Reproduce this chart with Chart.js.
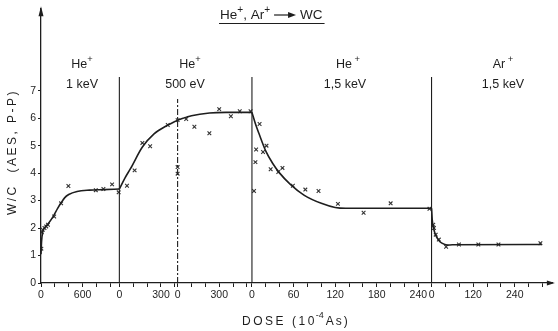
<!DOCTYPE html>
<html><head><meta charset="utf-8">
<script src="https://cdn.jsdelivr.net/npm/chart.js@4/dist/chart.umd.min.js"></script>
<style>html,body{margin:0;padding:0;background:#fff}</style>
</head><body>
<canvas id="c" width="558" height="331"></canvas>
<script>
// ---- x-axis segments (dose in 10^-4 As, each segment restarts at 0) ----
const segmentLengths    = [1130, 420, 536, 259, 350];
const segmentTickSteps  = [200, 100, 100, 20, 40];
const segmentLabelSteps = [600, 300, 300, 60, 120];
const segmentTickMax    = [1000, 400, 500, 240, 320];

// ---- He+ 1 keV ----
const doseHe1keV = [5, 12, 25, 50, 75, 100, 190, 290, 395, 790, 900, 1025, 1120];
const wcHe1keV   = [1.25, 1.85, 1.94, 2.0, 2.06, 2.12, 2.42, 2.9, 3.53, 3.38, 3.42, 3.59, 3.3];
const curveDoseHe1keV = [0, 8, 20, 50, 100, 170, 240, 290, 340, 400, 520, 700, 900, 1130];
const curveWcHe1keV   = [1.05, 1.5, 1.8, 2.0, 2.15, 2.4, 2.72, 2.92, 3.1, 3.22, 3.33, 3.38, 3.4, 3.42];

// ---- He+ 500 eV, first part ----
const doseHe500a = [55, 110, 166, 222, 349, 420, 420, 420];
const wcHe500a   = [3.54, 4.1, 5.1, 4.98, 5.75, 5.93, 4.22, 3.98];
const curveDoseHe500a = [0, 40, 80, 166, 250, 350, 420];
const curveWcHe500a   = [3.42, 3.82, 4.16, 4.95, 5.43, 5.75, 5.93];

// ---- He+ 500 eV, second part ----
const doseHe500b = [62, 121, 229, 300, 384, 448, 526];
const wcHe500b   = [5.97, 5.69, 5.45, 6.33, 6.07, 6.25, 6.25];
const curveDoseHe500b = [0, 100, 230, 350, 536];
const curveWcHe500b   = [5.93, 6.09, 6.19, 6.21, 6.21];

// ---- He+ 1,5 keV ----
const doseHe15 = [3, 5, 6, 11, 16, 21, 27, 38, 44, 59, 77, 96, 124, 161, 200, 256];
const wcHe15   = [3.35, 4.4, 4.86, 5.79, 4.77, 5.0, 4.14, 4.04, 4.19, 3.54, 3.4, 3.35, 2.88, 2.56, 2.9, 2.7];
const curveDoseHe15 = [0, 5, 10, 20, 30, 40, 55, 75, 100, 120, 135, 259];
const curveWcHe15   = [6.21, 5.8, 5.45, 4.8, 4.35, 4.0, 3.6, 3.2, 2.9, 2.75, 2.72, 2.72];

// ---- Ar+ 1,5 keV ----
const doseAr15 = [5, 7, 12, 21, 42, 79, 135, 193, 314];
const wcAr15   = [2.12, 2.0, 1.76, 1.58, 1.32, 1.4, 1.4, 1.4, 1.45];
const curveDoseAr15 = [0, 2, 5, 10, 20, 30, 45, 60, 318];
const curveWcAr15   = [2.72, 2.3, 2.05, 1.8, 1.56, 1.45, 1.38, 1.39, 1.4];

// ---- y axis ----
const yTickValues = [0, 1, 2, 3, 4, 5, 6, 7];
const boundaryTopWc = 7.5;
const dashedTopWc = 6.7;

// ---- mapping of segment-local dose to a common axis position (one unit per tick) ----
const segmentOffsets = [];
segmentLengths.reduce((acc, len, i) => { segmentOffsets[i] = acc; return acc + len / segmentTickSteps[i]; }, 0);
const xAxisMax = segmentOffsets[4] + segmentLengths[4] / segmentTickSteps[4];
const toAxis = (seg, d) => segmentOffsets[seg] + d / segmentTickSteps[seg];

const tickPositions = [], tickLabels = [];
segmentTickMax.forEach((mx, s) => {
  for (let d = 0; d <= mx; d += segmentTickSteps[s]) {
    tickPositions.push(toAxis(s, d));
    tickLabels.push(d % segmentLabelSteps[s] === 0 ? String(d) : '');
  }
});

const INK = '#1e1e1e';
const pts = (seg, xs, ys) => xs.map((d, i) => ({x: toAxis(seg, d), y: ys[i]}));
const pointSet = (seg, xs, ys) => ({data: pts(seg, xs, ys), showLine: false, pointStyle: 'crossRot',
  pointRadius: 2.6, borderColor: '#333', borderWidth: 1.1, backgroundColor: '#333'});
const curveSet = (seg, xs, ys) => ({data: pts(seg, xs, ys), showLine: true, pointRadius: 0,
  borderColor: INK, borderWidth: 1.6, cubicInterpolationMode: 'monotone', fill: false});
const vline = (seg, top, dash) => ({data: [{x: toAxis(seg, 0), y: 0}, {x: toAxis(seg, 0), y: top}],
  showLine: true, pointRadius: 0, borderColor: INK, borderWidth: 1.1, borderDash: dash || []});

const datasets = [
  vline(1, boundaryTopWc), vline(2, dashedTopWc, [6, 2, 2, 2]), vline(3, boundaryTopWc), vline(4, boundaryTopWc),
  curveSet(0, curveDoseHe1keV, curveWcHe1keV), curveSet(1, curveDoseHe500a, curveWcHe500a),
  curveSet(2, curveDoseHe500b, curveWcHe500b), curveSet(3, curveDoseHe15, curveWcHe15),
  curveSet(4, curveDoseAr15, curveWcAr15),
  pointSet(0, doseHe1keV, wcHe1keV), pointSet(1, doseHe500a, wcHe500a), pointSet(2, doseHe500b, wcHe500b),
  pointSet(3, doseHe15, wcHe15), pointSet(4, doseAr15, wcAr15)
];

const FONT = '"Liberation Sans", Arial, sans-serif';
// narrow face for tick digits if available
const probe = document.createElement('canvas').getContext('2d');
probe.font = '20px "Liberation Sans"'; const wReg = probe.measureText('2400').width;
probe.font = '20px "Liberation Sans Narrow", "Liberation Sans"'; const wNar = probe.measureText('2400').width;
const hasNarrow = wNar < wReg - 2;
const TICKFONT = hasNarrow ? {family: '"Liberation Sans Narrow", "Liberation Sans"', size: 12.5} : {family: FONT, size: 10.5};

function drawParts(ctx, parts, x, y, size) {
  let w = 0;
  parts.forEach(([t, sup]) => { ctx.font = (sup ? size * 0.75 : size) + 'px ' + FONT; w += ctx.measureText(t).width; });
  let cx = x - w / 2;
  ctx.textAlign = 'left'; ctx.textBaseline = 'alphabetic';
  parts.forEach(([t, sup]) => {
    ctx.font = (sup ? size * 0.75 : size) + 'px ' + FONT;
    ctx.fillText(t, cx, sup ? y - size * 0.45 : y);
    cx += ctx.measureText(t).width;
  });
  return w;
}

const decor = {
  id: 'decor',
  afterDraw(chart) {
    const ctx = chart.ctx, a = chart.chartArea;
    ctx.save();
    ctx.fillStyle = INK; ctx.strokeStyle = INK;
    // axis arrows
    ctx.beginPath(); ctx.moveTo(a.left, a.top - 2); ctx.lineTo(a.left - 2.5, a.top + 8); ctx.lineTo(a.left + 2.5, a.top + 8); ctx.closePath(); ctx.fill();
    ctx.beginPath(); ctx.moveTo(a.right + 2, a.bottom); ctx.lineTo(a.right - 6, a.bottom - 2.5); ctx.lineTo(a.right - 6, a.bottom + 2.5); ctx.closePath(); ctx.fill();
    // title
    ctx.lineWidth = 1.2;
    const size = 13.5;
    const ty = 19;
    const parts1 = [['He', 0], ['+', 1], [', Ar', 0], ['+', 1]];
    let w1 = 0; parts1.forEach(([t, s]) => { ctx.font = (s ? size * 0.75 : size) + 'px ' + FONT; w1 += ctx.measureText(t).width; });
    const x0 = 220;
    drawParts(ctx, parts1, x0 + w1 / 2, ty, size);
    const ax = x0 + w1 + 4;
    ctx.beginPath(); ctx.moveTo(ax, ty - 4); ctx.lineTo(ax + 16, ty - 4); ctx.stroke();
    ctx.beginPath(); ctx.moveTo(ax + 22, ty - 4); ctx.lineTo(ax + 14, ty - 7); ctx.lineTo(ax + 14, ty - 1); ctx.closePath(); ctx.fill();
    ctx.font = size + 'px ' + FONT; ctx.textAlign = 'left';
    ctx.fillText('WC', ax + 26, ty);
    const wEnd = ax + 26 + ctx.measureText('WC').width;
    ctx.lineWidth = 1.1;
    ctx.beginPath(); ctx.moveTo(x0 - 1, 23.5); ctx.lineTo(wEnd + 2, 23.5); ctx.stroke();
    // segment labels
    const lab = [[82, 'He', '1 keV'], [190, 'He', '500 eV'], [348, 'He', '1,5 keV'], [503, 'Ar', '1,5 keV']];
    lab.forEach(([x, ion, e], i) => {
      drawParts(ctx, [[ion, 0], [i >= 2 ? ' +' : '+', 1]], x, 68, 12.5);
      ctx.font = '12.5px ' + FONT; ctx.textAlign = 'center';
      ctx.fillText(e, x - (i === 1 ? 5 : i === 2 ? 3 : 0), 88);
    });
    // axis titles
    ctx.font = '12px ' + FONT;
    ctx.letterSpacing = '2.5px';
    ctx.textAlign = 'center'; ctx.textBaseline = 'middle';
    ctx.save(); ctx.translate(13, 152); ctx.rotate(-Math.PI / 2);
    ctx.fillText('W/C  (AES, P-P)', 0, 0);
    ctx.restore();
    ctx.textAlign = 'left';
    ctx.fillText('DOSE', 242, 322);
    ctx.fillText('(10', 292, 322);
    let xx = 292 + ctx.measureText('(10').width;
    ctx.font = '9px ' + FONT; ctx.letterSpacing = '0px';
    ctx.fillText('-4', xx - 1, 316);
    xx += ctx.measureText('-4').width + 1;
    ctx.font = '12px ' + FONT; ctx.letterSpacing = '2px';
    ctx.fillText('As)', xx, 322);
    ctx.restore();
  }
};

new Chart(document.getElementById('c'), {
  type: 'scatter',
  data: {datasets},
  options: {
    responsive: false, animation: false, devicePixelRatio: 1,
    layout: {padding: {top: 5, right: 2, left: 0, bottom: 0}},
    plugins: {legend: {display: false}, tooltip: {enabled: false}},
    scales: {
      x: {
        type: 'linear', min: 0, max: xAxisMax,
        border: {display: true, color: INK, width: 1.3},
        grid: {display: true, drawOnChartArea: false, drawTicks: true, tickLength: 4, color: INK, lineWidth: 1},
        afterBuildTicks: s => { s.ticks = tickPositions.map(v => ({value: v})); },
        afterFit: s => { s.height = 48; },
        ticks: {autoSkip: false, maxRotation: 0, minRotation: 0, padding: 2, color: INK,
          font: TICKFONT, callback: (v, i) => tickLabels[i]}
      },
      y: {
        min: 0, max: 10,
        border: {display: true, color: INK, width: 1.3},
        grid: {display: true, drawOnChartArea: false, drawTicks: true, tickLength: 3, color: INK},
        afterBuildTicks: s => { s.ticks = yTickValues.map(v => ({value: v})); },
        afterFit: s => { s.width = 41; },
        ticks: {padding: 2, color: INK, font: TICKFONT, callback: v => String(v)}
      }
    }
  },
  plugins: [decor]
});
</script>
</body></html>
